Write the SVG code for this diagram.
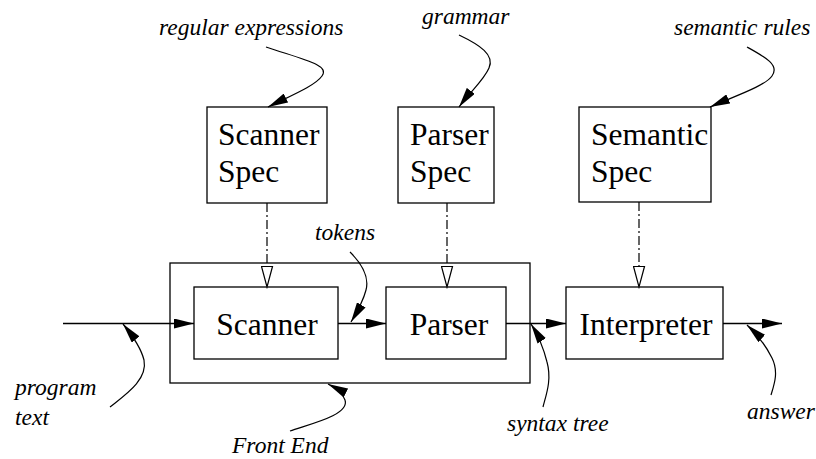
<svg xmlns="http://www.w3.org/2000/svg" width="816" height="459" viewBox="0 0 816 459">
  <style>
    .box { fill: #fff; stroke: #000; stroke-width: 1.3; }
    .frame { fill: none; stroke: #000; stroke-width: 1.3; }
    .name { font-family: "Liberation Serif", serif; font-size: 31.5px; fill: #000; }
    .note { font-family: "Liberation Serif", serif; font-size: 23.5px; font-style: italic; fill: #000; }
    .flow { fill: none; stroke: #000; stroke-width: 1.3; marker-end: url(#solid); }
    .pointer { fill: none; stroke: #000; stroke-width: 1.2; marker-end: url(#solid); }
    .spec { fill: none; stroke: #000; stroke-width: 1.2; stroke-dasharray: 9 3 2 3; marker-end: url(#hollow); }
  </style>
  <defs>
    <marker id="solid" markerUnits="userSpaceOnUse" viewBox="0 0 20 10" refX="20" refY="5" markerWidth="20" markerHeight="10" orient="auto">
      <path d="M0,0 L20,5 L0,10 Z" fill="#000"/>
    </marker>
    <marker id="hollow" markerUnits="userSpaceOnUse" viewBox="-1 -1 23 13" refX="20.5" refY="5.5" markerWidth="23" markerHeight="13" orient="auto">
      <path d="M0,0 L20.5,5.5 L0,11 Z" fill="#fff" stroke="#000" stroke-width="1.2"/>
    </marker>
  </defs>

  <rect width="816" height="459" fill="#fff"/>

  <!-- Front End enclosure -->
  <g id="front-end">
    <rect class="frame" x="170" y="263" width="360" height="120"/>
  </g>

  <g id="scanner-spec">
    <rect class="box" x="207" y="107" width="120" height="96"/>
    <text class="name" x="218" y="145">Scanner</text>
    <text class="name" x="218" y="182">Spec</text>
  </g>

  <g id="parser-spec">
    <rect class="box" x="398" y="107" width="96" height="96"/>
    <text class="name" x="410" y="145">Parser</text>
    <text class="name" x="410" y="182">Spec</text>
  </g>

  <g id="semantic-spec">
    <rect class="box" x="579" y="107" width="132" height="95"/>
    <text class="name" x="591" y="145">Semantic</text>
    <text class="name" x="591" y="182">Spec</text>
  </g>

  <g id="scanner">
    <rect class="box" x="194" y="287" width="144" height="72"/>
    <text class="name" x="267" y="334.5" text-anchor="middle">Scanner</text>
  </g>

  <g id="parser">
    <rect class="box" x="386" y="287" width="120" height="72"/>
    <text class="name" x="449" y="334.5" text-anchor="middle">Parser</text>
  </g>

  <g id="interpreter">
    <rect class="box" x="566" y="287" width="157" height="72"/>
    <text class="name" x="646" y="334.5" text-anchor="middle">Interpreter</text>
  </g>

  <!-- labels -->
  <g id="labels">
    <text class="note" x="159" y="35">regular expressions</text>
    <text class="note" x="422" y="24">grammar</text>
    <text class="note" x="674" y="35">semantic rules</text>
    <text class="note" x="315" y="240">tokens</text>
    <text class="note" x="15" y="395">program</text>
    <text class="note" x="15" y="425">text</text>
    <text class="note" x="232" y="453">Front End</text>
    <text class="note" x="507" y="431">syntax tree</text>
    <text class="note" x="747" y="419">answer</text>
  </g>

  <g id="connectors">
    <!-- data flow -->
    <path class="flow" d="M63,323.5 H194"/>
    <path class="flow" d="M338,323.5 H386"/>
    <path class="flow" d="M506,323.5 H566"/>
    <path class="flow" d="M723,323.5 H782"/>

    <!-- generated-from relations -->
    <path class="spec" d="M267,203 V287"/>
    <path class="spec" d="M447,203 V287"/>
    <path class="spec" d="M639,202 V287"/>

    <!-- label pointers -->
    <path class="pointer" d="M266,47 C305,60 330,65 322,76 C315,86 290,96 268,107"/>
    <path class="pointer" d="M459,35 C480,45 495,55 489,68 C484,80 470,92 459,107"/>
    <path class="pointer" d="M747,47 C765,57 780,65 772,76 C765,86 735,96 710,107"/>
    <path class="pointer" d="M350,252 C360,262 370,275 366,290 C363,302 357,312 351,322"/>
    <path class="pointer" d="M110,407 C125,395 148,380 144,360 C141,348 132,335 123,324"/>
    <path class="pointer" d="M543,407 C546,395 552,380 547,362 C544,350 538,335 531,324"/>
    <path class="pointer" d="M771,395 C774,385 779,372 772,358 C767,348 758,335 747,325"/>
    <path class="pointer" d="M290,431 C310,424 350,415 345,400 C343,394 338,389 328,384"/>
  </g>
</svg>
